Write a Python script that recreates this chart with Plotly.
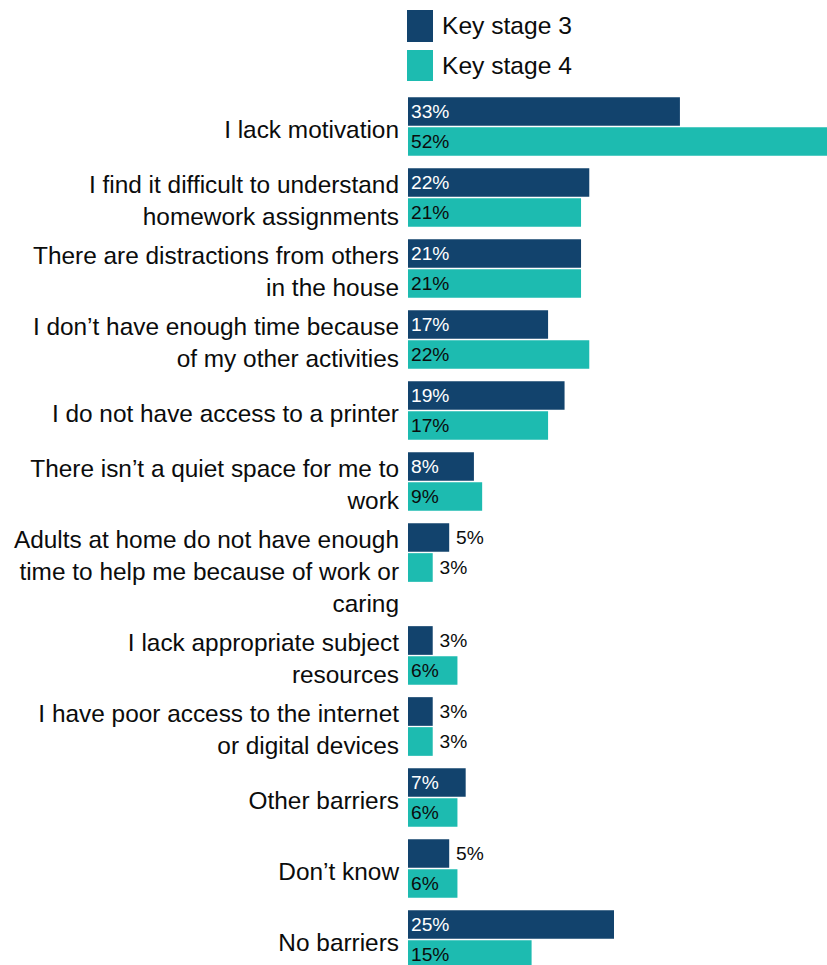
import plotly.graph_objects as go

# Reported barriers to completing homework, by key stage (% of pupils)
categories = [
    "I lack motivation",
    "I find it difficult to understand<br>homework assignments",
    "There are distractions from others<br>in the house",
    "I don\u2019t have enough time because<br>of my other activities",
    "I do not have access to a printer",
    "There isn\u2019t a quiet space for me to<br>work",
    "Adults at home do not have enough<br>time to help me because of work or<br>caring",
    "I lack appropriate subject<br>resources",
    "I have poor access to the internet<br>or digital devices",
    "Other barriers",
    "Don\u2019t know",
    "No barriers",
]
ks3_values = [33, 22, 21, 17, 19, 8, 5, 3, 3, 7, 5, 25]
ks4_values = [52, 21, 21, 22, 17, 9, 3, 6, 3, 6, 6, 15]
series_names = ["Key stage 3", "Key stage 4"]

DARK_BLUE = "#12436D"
TEAL = "#1DBBB0"
INK = "#0b0c0c"
FONT = "Liberation Sans, Arial, sans-serif"

W, H = 827, 965
M_L, M_T = 408, 91
PLOT_W, PLOT_H = W - M_L, H - M_T

# Row layout: each category row is as tall as its label (min two lines);
# the pair of bars sits in the top two-line slot of the row.
LINE_H = 32
ROW_PAD = 7
BAR_H = 28.7
BAR_GAP = 1.3
LABEL_DROP = 3


def row_height(label):
    return max(label.count("<br>") + 1, 2) * LINE_H + ROW_PAD


bar_pos, tick_pos = [], []
row_top = 0.0
for label in categories:
    h = row_height(label)
    bar_pos.append(row_top + (2 * LINE_H + ROW_PAD) / 2)
    tick_pos.append(row_top + h / 2 + LABEL_DROP)
    row_top += h


def px_x(px):
    return (px - M_L) / PLOT_W


def px_y(py):
    return (H - py) / PLOT_H


def bar_trace(name, values, colour, inside_colour, offset):
    return go.Bar(
        name=name,
        y=bar_pos,
        x=values,
        orientation="h",
        offset=offset,
        width=BAR_H,
        marker=dict(color=colour, line=dict(width=0)),
        text=[f"{v}%" if v >= 6 else f"\u2009{v}%" for v in values],
        textposition=["inside" if v >= 6 else "outside" for v in values],
        insidetextanchor="start",
        insidetextfont=dict(color=inside_colour, size=19.2, family=FONT),
        outsidetextfont=dict(color=INK, size=19.2, family=FONT),
        constraintext="none",
        cliponaxis=True,
        hoverinfo="skip",
    )


fig = go.Figure()
fig.add_trace(bar_trace(series_names[0], ks3_values, DARK_BLUE, "#ffffff",
                        -(BAR_H + BAR_GAP / 2)))
fig.add_trace(bar_trace(series_names[1], ks4_values, TEAL, INK, BAR_GAP / 2))

# Legend drawn as swatches + labels above the bars
shapes = []
annotations = []
for name, colour, (top, bottom) in zip(series_names, [DARK_BLUE, TEAL], [(10, 42), (50, 81)]):
    shapes.append(dict(
        type="rect", xref="paper", yref="paper",
        x0=px_x(407), x1=px_x(433), y0=px_y(bottom), y1=px_y(top),
        fillcolor=colour, line=dict(width=0), layer="above",
    ))
    annotations.append(dict(
        xref="paper", yref="paper", x=px_x(440), y=px_y((top + bottom) / 2),
        xanchor="left", yanchor="middle", text=name, showarrow=False,
        font=dict(size=24.6, color=INK, family=FONT),
    ))

fig.update_layout(
    width=W, height=H,
    margin=dict(l=M_L, r=0, t=M_T, b=0, pad=0),
    paper_bgcolor="white", plot_bgcolor="white",
    barmode="overlay",
    showlegend=False,
    font=dict(family=FONT, color=INK),
    shapes=shapes, annotations=annotations,
)
fig.update_xaxes(
    range=[0, PLOT_W / 8.24], showgrid=False, zeroline=False,
    showticklabels=False, ticks="", showline=False, fixedrange=True,
)
fig.update_yaxes(
    range=[PLOT_H, 0],
    tickmode="array", tickvals=tick_pos, ticktext=categories,
    showgrid=False, zeroline=False, showline=False, ticks="",
    ticklabelstandoff=8,
    tickfont=dict(size=24.4, color=INK, family=FONT), fixedrange=True,
)

fig.write_html("out.html")
